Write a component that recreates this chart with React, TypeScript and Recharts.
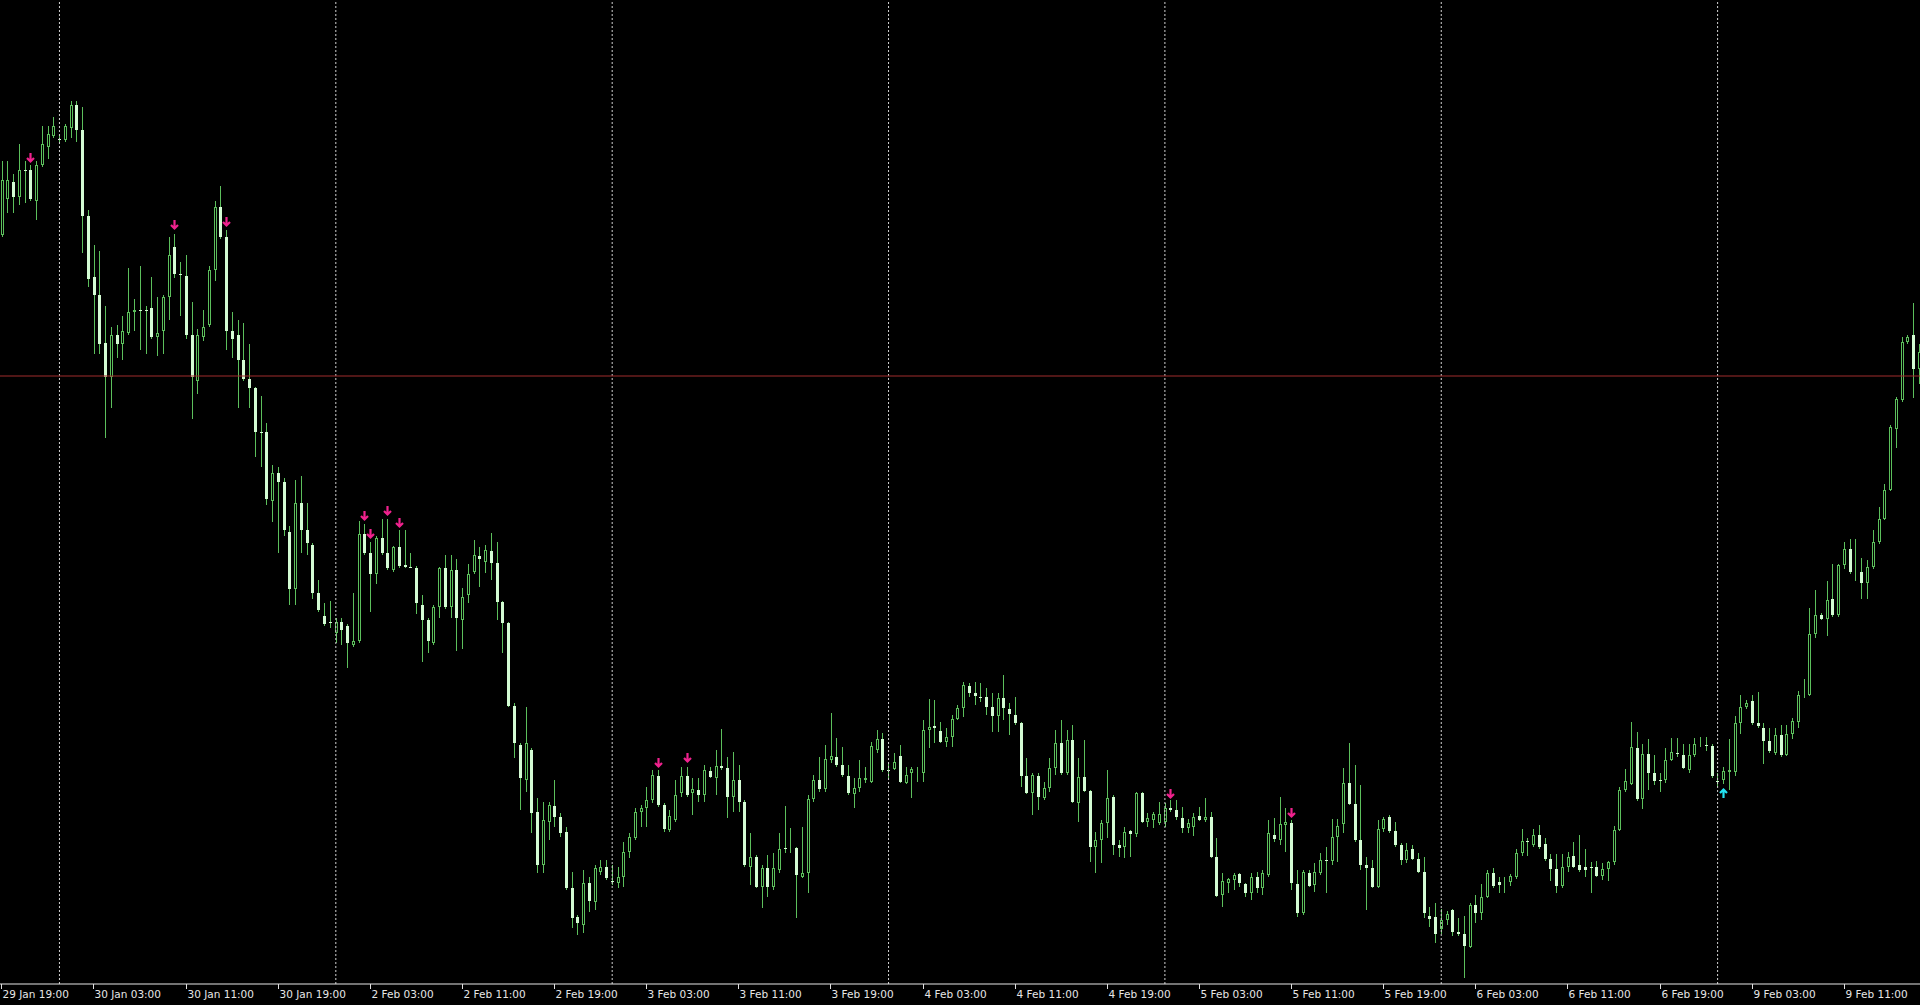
import React from 'react';
import { ComposedChart, Bar, XAxis, YAxis, ReferenceLine } from 'recharts';

// M30 candles, prices in points (chart level units)
const opens: number[] = [
  749,785,802,787,814,814,783,819,837,848,
  845,844,856,879,854,768,707,689,641,607,
  649,640,651,672,674,674,676,647,653,687,
  737,710,708,649,603,647,659,714,777,747,
  653,649,624,605,596,552,552,483,511,502,
  452,395,481,454,439,391,368,362,351,362,
  358,339,343,450,431,410,446,431,414,437,
  419,417,416,379,364,341,377,416,377,414,
  364,389,412,428,422,433,421,382,361,278,
  239,204,234,172,119,162,178,167,152,96,
  67,59,101,82,112,117,103,101,107,132,
  146,172,176,184,208,179,154,164,191,208,
  191,194,189,213,206,218,216,187,204,182,
  117,127,97,116,97,114,136,136,136,107,
  111,185,204,195,224,227,219,208,190,196,
  204,202,234,245,214,215,228,201,211,211,
  211,254,258,253,242,247,265,276,298,291,
  287,287,277,268,286,275,269,261,208,191,
  208,186,196,216,241,211,244,181,207,193,
  137,144,161,187,139,137,153,150,191,162,
  164,161,162,176,174,166,156,157,168,164,
  167,127,89,101,104,110,100,91,107,96,
  109,149,144,159,161,100,71,111,99,111,
  124,123,147,160,201,180,144,119,116,97,
  155,167,153,139,124,135,125,112,68,67,
  55,64,74,52,50,37,79,71,87,111,
  102,101,102,107,131,143,139,149,140,125,
  115,98,117,128,119,117,117,117,108,115,
  122,154,194,200,236,185,230,211,204,204,
  224,231,229,214,229,240,239,238,203,204,
  212,212,261,277,283,261,256,243,231,249,
  229,250,262,289,289,350,369,365,385,369,
  419,435,412,412,401,417,442,465,494,555,
  584,642,649,615,
];

const highs: number[] = [
  823,823,810,840,823,819,823,858,858,867,
  848,860,883,883,877,774,739,733,678,657,
  659,668,716,685,718,678,707,687,689,747,
  750,722,729,682,655,674,718,783,798,754,
  672,664,661,640,597,588,561,519,517,506,
  458,504,508,481,441,404,381,383,366,366,
  360,391,463,460,442,448,465,465,438,454,
  454,431,418,389,366,379,417,429,429,425,
  396,420,444,437,439,451,442,383,362,281,
  241,277,236,186,182,182,204,171,157,112,
  69,114,107,119,124,124,119,117,142,151,
  176,179,197,214,214,181,174,204,217,217,
  206,206,219,217,234,255,227,232,219,184,
  151,129,119,129,131,151,178,156,137,157,
  189,209,227,239,271,246,237,219,206,224,
  217,242,254,251,221,231,239,217,217,217,
  264,285,284,262,256,269,279,302,301,302,
  301,296,291,291,309,281,287,262,226,211,
  211,202,226,254,264,254,259,226,244,194,
  152,164,214,189,144,157,154,192,192,171,
  172,182,181,184,184,177,165,171,177,186,
  172,146,111,106,111,111,101,111,112,114,
  164,166,187,176,164,114,114,114,121,131,
  137,165,165,216,241,219,199,127,124,164,
  167,169,162,141,141,139,131,127,77,81,
  75,73,75,66,68,81,89,100,114,116,
  107,107,110,135,155,146,155,159,146,130,
  130,130,132,142,149,135,122,123,121,123,
  158,197,215,262,252,240,245,229,211,236,
  246,246,240,240,246,247,247,240,211,217,
  245,268,289,284,289,292,261,256,256,259,
  259,266,293,305,376,394,371,403,420,420,
  442,445,445,426,424,454,477,500,559,587,
  647,649,681,640,
];

const lows: number[] = [
  747,771,771,779,781,783,764,817,825,846,
  842,842,846,842,731,697,630,630,546,576,
  626,624,649,653,634,630,645,628,630,664,
  706,668,645,565,590,643,657,703,745,634,
  626,576,603,576,527,517,479,462,431,448,
  379,379,431,429,385,372,358,356,341,339,
  316,337,341,429,372,400,429,414,412,416,
  416,416,370,322,331,339,366,375,366,333,
  335,381,410,397,411,404,364,331,277,226,
  174,192,151,111,111,144,157,147,94,56,
  49,51,72,74,109,104,99,96,97,126,
  144,157,157,181,177,152,152,162,187,187,
  169,182,182,206,189,214,166,172,172,117,
  99,96,76,87,94,111,131,131,66,106,
  91,182,192,192,221,217,207,189,176,192,
  201,201,231,212,204,214,201,200,186,202,
  202,236,241,241,237,237,264,267,287,279,
  282,269,252,252,264,249,259,197,190,169,
  174,184,192,209,209,209,181,162,192,122,
  111,121,146,129,127,126,127,147,161,157,
  156,159,157,172,164,151,151,148,163,162,
  126,87,77,91,94,97,87,84,91,89,
  107,142,139,132,94,67,69,97,92,109,
  91,119,122,151,179,142,114,74,96,96,
  152,151,137,119,121,124,111,66,57,41,
  50,59,48,48,6,36,61,64,86,96,
  91,91,98,105,128,128,137,135,123,103,
  91,96,112,116,112,107,91,107,104,103,
  119,153,192,199,183,175,194,199,192,201,
  223,227,215,211,227,237,233,206,197,200,
  194,208,250,275,259,256,220,231,229,227,
  228,245,256,286,288,346,364,348,367,367,
  415,410,403,385,385,415,440,464,493,536,
  582,640,586,600,
];

const closes: number[] = [
  804,804,787,814,813,785,819,840,850,858,
  845,858,879,854,768,705,689,640,607,649,
  640,653,672,674,674,673,647,651,687,729,
  710,710,649,607,649,657,714,777,747,653,
  645,624,605,596,552,551,485,511,502,454,
  395,481,454,441,391,374,360,361,362,354,
  341,343,450,431,410,446,431,416,437,418,
  417,416,381,364,343,377,416,377,414,366,
  387,410,429,425,434,421,382,361,278,241,
  206,241,171,119,164,179,167,151,96,66,
  61,101,83,116,117,106,102,107,132,147,
  172,176,184,209,179,155,168,189,208,189,
  195,189,214,207,218,216,187,204,182,119,
  127,97,116,97,116,135,135,137,109,111,
  185,204,195,225,228,219,209,191,196,206,
  206,238,245,214,213,222,202,209,215,212,
  254,257,256,242,247,265,276,299,291,288,
  286,277,268,286,276,270,261,208,191,209,
  187,196,216,241,211,244,182,207,193,137,
  144,161,186,139,136,152,150,191,162,166,
  170,170,176,174,167,156,161,167,164,167,
  127,88,103,105,109,101,91,107,96,111,
  151,145,160,162,101,71,112,98,112,124,
  123,147,158,201,180,144,119,116,97,155,
  165,153,139,124,134,125,112,71,65,50,
  64,70,52,50,38,79,71,87,111,98,
  99,102,108,131,143,142,149,137,125,115,
  98,117,127,117,114,114,116,108,115,122,
  154,194,203,237,185,230,211,203,203,224,
  232,230,216,229,240,241,238,208,202,213,
  214,261,277,281,261,258,243,233,249,229,
  250,263,289,290,350,369,365,384,369,419,
  435,412,413,401,417,442,465,494,557,585,
  642,647,615,632,
];

// Signal arrows (candle index, price level of the arrow)
const sellIdx: number[] = [5, 30, 39, 63, 64, 67, 69, 114, 119, 203, 224];
const sellAt: number[] = [826, 759, 762, 468, 450, 473, 461, 221, 226, 190, 171];
const buyIdx: number[] = [299];
const buyAt: number[] = [191];

// Time scale
const tickIdx: number[] = [0, 16, 32, 48, 64, 80, 96, 112, 128, 144, 160, 176, 192, 208, 224, 240, 256, 272, 288, 304, 320];
const tickLabels: string[] = [
  '29 Jan 19:00', '30 Jan 03:00', '30 Jan 11:00', '30 Jan 19:00', '2 Feb 03:00', '2 Feb 11:00', '2 Feb 19:00',
  '3 Feb 03:00', '3 Feb 11:00', '3 Feb 19:00', '4 Feb 03:00', '4 Feb 11:00', '4 Feb 19:00', '5 Feb 03:00',
  '5 Feb 11:00', '5 Feb 19:00', '6 Feb 03:00', '6 Feb 11:00', '6 Feb 19:00', '9 Feb 03:00', '9 Feb 11:00',
];
const daySeparators: number[] = [10, 58, 106, 154, 202, 250, 298];
const levelPrice = 608;

const data = opens.map((o, i) => {
  const s = sellIdx.indexOf(i);
  const b = buyIdx.indexOf(i);
  return {
    t: i,
    o,
    h: highs[i],
    l: lows[i],
    c: closes[i],
    sell: s >= 0 ? sellAt[s] : null,
    buy: b >= 0 ? buyAt[b] : null,
  };
});

const WICK = '#5cbf5c';
const BEAR = '#d4fcd4';
const SELL = '#f0228e';
const BUY = '#22e2f2';

function renderCandle(props: any) {
  const { x, y, width, height, payload } = props;
  if (!payload || !isFinite(x) || !isFinite(y) || !isFinite(height)) return <g />;
  const { o, h, l, c, sell, buy } = payload;
  const col = Math.floor(x + width / 2);
  const span = h - l;
  const px = (v: number) => (span === 0 ? y : y + ((h - v) / span) * height);
  const top = Math.round(px(Math.max(o, c)));
  const bot = Math.round(px(Math.min(o, c)));
  const wx = col + 0.5;
  const bull = c > o;
  let body: React.ReactNode;
  if (bot - top < 1) {
    body = <line x1={col - 1} x2={col + 2} y1={top + 0.5} y2={top + 0.5} stroke={bull ? WICK : BEAR} strokeWidth={1} />;
  } else if (bull) {
    body = <rect x={col - 0.5} y={top + 0.5} width={2} height={Math.max(bot - top - 1, 0)} fill="#000" stroke={WICK} strokeWidth={1} />;
  } else {
    body = <rect x={col - 1} y={top} width={3} height={bot - top} fill={BEAR} />;
  }
  let arrow: React.ReactNode = null;
  if (sell != null) {
    const ay = px(sell);
    arrow = (
      <path d={`M${wx},${ay - 5} L${wx},${ay + 3.5} M${wx - 3.5},${ay} L${wx},${ay + 3.5} L${wx + 3.5},${ay}`}
        stroke={SELL} strokeWidth={2.2} fill="none" />
    );
  } else if (buy != null) {
    const ay = px(buy);
    arrow = (
      <path d={`M${wx},${ay + 5} L${wx},${ay - 3.5} M${wx - 3.5},${ay} L${wx},${ay - 3.5} L${wx + 3.5},${ay}`}
        stroke={BUY} strokeWidth={2.2} fill="none" />
    );
  }
  return (
    <g>
      <line x1={wx} x2={wx} y1={y} y2={y + height} stroke={WICK} strokeWidth={1} />
      {body}
      {arrow}
    </g>
  );
}

const TimeTick = (props: any) => {
  const { x, payload } = props;
  const k = tickIdx.indexOf(payload.value);
  const tx = Math.floor(x) + 0.5;
  return (
    <g>
      <line x1={tx} x2={tx} y1={984} y2={989} stroke="#e0e0e0" strokeWidth={1} />
      <text x={tx + 1} y={998} fill="#e6e6e6" fontSize={10.5} fontFamily="DejaVu Sans, Verdana, sans-serif">
        {k >= 0 ? tickLabels[k] : ''}
      </text>
    </g>
  );
};

export default function App() {
  return (
    <div style={{ position: 'absolute', left: 0, top: 0, width: 1920, height: 1005, background: '#000', overflow: 'hidden' }}>
      <div style={{ position: 'absolute', left: -0.88, top: 0 }}>
        <ComposedChart width={1923} height={1005} data={data} margin={{ top: 0, right: 0, bottom: 0, left: 0 }}>
          <XAxis
            dataKey="t"
            type="category"
            ticks={tickIdx}
            interval={0}
            height={21}
            tickLine={false}
            axisLine={{ stroke: '#e6e6e6' }}
            tick={<TimeTick />}
          />
          <YAxis hide type="number" domain={[0, 984]} allowDataOverflow />
          {daySeparators.map((d) => (
            <ReferenceLine key={d} x={d} stroke="#d2d2d2" strokeDasharray="2 2" />
          ))}
          <ReferenceLine y={levelPrice} stroke="#a02c2c" strokeWidth={1.2} />
          <Bar dataKey={(d: any) => [d.l, d.h]} shape={renderCandle} isAnimationActive={false} />
        </ComposedChart>
      </div>
    </div>
  );
}
